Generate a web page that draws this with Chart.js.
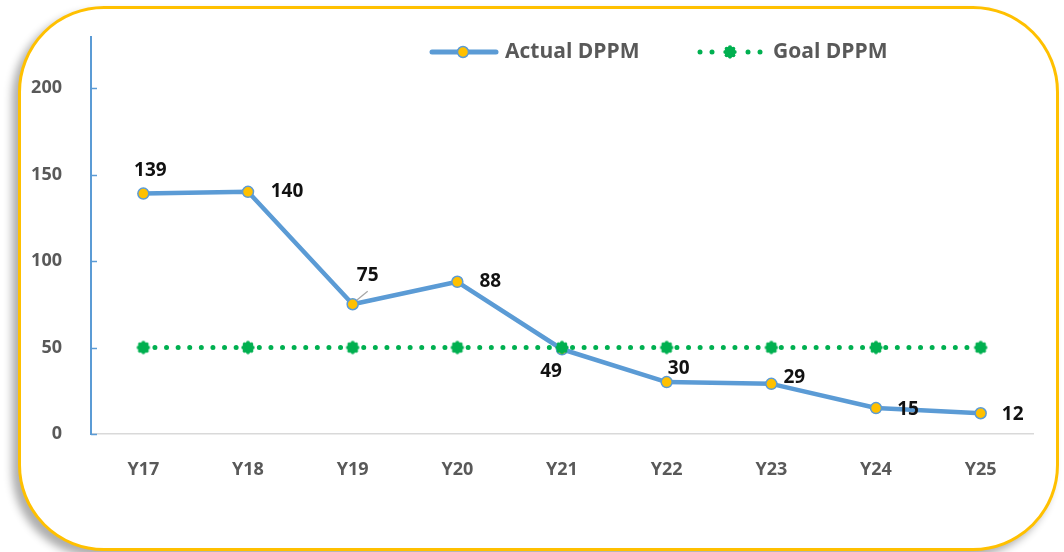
<!DOCTYPE html>
<html>
<head>
<meta charset="utf-8">
<script src="https://cdn.jsdelivr.net/npm/chart.js@4.4.1/dist/chart.umd.min.js"></script>
<style>
  html, body { margin: 0; padding: 0; background: #ffffff; }
  body { width: 1064px; height: 552px; position: relative; overflow: hidden; }
  #frame {
    position: absolute; left: 18px; top: 6px; width: 1041px; height: 545px;
    box-sizing: border-box; border: 3px solid #FFC000; border-radius: 86px;
    box-shadow: -6px 6px 8px rgba(0,0,0,0.32);
    background: #ffffff;
  }
  #wrap { position: absolute; left: 0; top: 0; width: 1064px; height: 552px; }
</style>
</head>
<body>
<div id="frame"></div>
<div id="wrap"><canvas id="c" width="1064" height="552"></canvas></div>
<script>
// ---- data ----
const categories = ['Y17', 'Y18', 'Y19', 'Y20', 'Y21', 'Y22', 'Y23', 'Y24', 'Y25'];
const actualDPPM = [139, 140, 75, 88, 49, 30, 29, 15, 12];
const goalDPPM = [50, 50, 50, 50, 50, 50, 50, 50, 50];
const yTicks = [0, 50, 100, 150, 200];
const seriesNames = ['Actual DPPM', 'Goal DPPM'];

// ---- styling ----
const BLUE = '#5B9BD5', GOLD = '#FFC000', GREEN = '#00B050', GRAY = '#595959';
const FONT = '"Open Sans", "Liberation Sans", sans-serif';
// label centre offsets relative to each Actual point (style only)
const labelOffsets = [[7,-23],[39,0],[15,-29],[33,0],[-11,22],[12,-14],[23,-6],[32,2],[32,1]];

function makeGoalMarker() {
  const cv = document.createElement('canvas');
  cv.width = 16; cv.height = 16;
  const g = cv.getContext('2d');
  g.fillStyle = GREEN;
  g.beginPath(); g.arc(8, 8, 5, 0, Math.PI * 2); g.fill();
  for (let i = 0; i < 8; i++) {
    const a = i * Math.PI / 4;
    g.beginPath(); g.arc(8 + 4.6 * Math.cos(a), 8 + 4.6 * Math.sin(a), 2.1, 0, Math.PI * 2); g.fill();
  }
  return cv;
}
const goalMarker = makeGoalMarker();

const extras = {
  id: 'extras',
  afterDatasetsDraw(chart) {
    const ctx = chart.ctx;
    const ys = chart.scales.y, xs = chart.scales.x;
    ctx.save();
    // y tick marks (inside)
    ctx.strokeStyle = BLUE; ctx.lineWidth = 1.5;
    yTicks.forEach(v => {
      const y = Math.round(ys.getPixelForValue(v)) + 0.5;
      ctx.beginPath(); ctx.moveTo(xs.left, y); ctx.lineTo(xs.left + 6, y); ctx.stroke();
    });
    // data labels
    const meta = chart.getDatasetMeta(1);
    ctx.font = 'bold 19px ' + FONT;
    ctx.fillStyle = '#111111';
    ctx.textAlign = 'center'; ctx.textBaseline = 'middle';
    meta.data.forEach((pt, i) => {
      const [dx, dy] = labelOffsets[i];
      ctx.fillText(String(actualDPPM[i]), pt.x + dx, pt.y + dy);
    });
    // leader line for Y19 label
    const p = meta.data[2];
    ctx.strokeStyle = '#A6A6A6'; ctx.lineWidth = 1.2;
    ctx.beginPath(); ctx.moveTo(p.x + 4, p.y - 4); ctx.lineTo(p.x + 15, p.y - 13); ctx.stroke();

    // legend
    const ly = 52;
    ctx.lineCap = 'round';
    ctx.strokeStyle = BLUE; ctx.lineWidth = 5;
    ctx.beginPath(); ctx.moveTo(432, ly); ctx.lineTo(496, ly); ctx.stroke();
    ctx.fillStyle = GOLD; ctx.strokeStyle = BLUE; ctx.lineWidth = 1.5;
    ctx.beginPath(); ctx.arc(463, ly, 5.5, 0, Math.PI * 2); ctx.fill(); ctx.stroke();
    ctx.fillStyle = GREEN;
    [700, 712, 748, 760].forEach(x => { ctx.beginPath(); ctx.arc(x, ly, 2.5, 0, Math.PI * 2); ctx.fill(); });
    ctx.drawImage(goalMarker, 730 - 8, ly - 8);
    ctx.font = 'bold 21px ' + FONT;
    ctx.fillStyle = GRAY; ctx.textAlign = 'left';
    ctx.fillText(seriesNames[0], 505, ly);
    ctx.fillText(seriesNames[1], 773, ly);
    ctx.restore();
  }
};

new Chart(document.getElementById('c'), {
  type: 'line',
  data: {
    labels: categories,
    datasets: [
      {
        label: seriesNames[1], data: goalDPPM,
        borderColor: GREEN, borderWidth: 5, borderDash: [0, 11.6], borderCapStyle: 'round',
        pointStyle: goalMarker, pointRadius: 7, pointHoverRadius: 7,
        fill: false, tension: 0
      },
      {
        label: seriesNames[0], data: actualDPPM,
        borderColor: BLUE, borderWidth: 4.5, borderCapStyle: 'round', borderJoinStyle: 'round',
        pointBackgroundColor: GOLD, pointBorderColor: BLUE, pointBorderWidth: 1.5,
        pointRadius: 5.5, pointHoverRadius: 5.5,
        fill: false, tension: 0
      }
    ]
  },
  options: {
    responsive: false, animation: false,
    layout: { padding: { top: 37, right: 31, bottom: 0, left: 0 } },
    plugins: { legend: { display: false }, tooltip: { enabled: false } },
    events: [],
    scales: {
      x: {
        offset: true,
        grid: { display: false },
        border: { display: true, color: '#D9D9D9', width: 1.5 },
        ticks: { color: GRAY, padding: 17, font: { family: FONT, size: 18, weight: 'bold' } },
        afterFit(s) { s.height = 118; }
      },
      y: {
        min: 0, max: 229.5,
        grid: { display: false },
        border: { display: true, color: BLUE, width: 2 },
        afterBuildTicks(s) { s.ticks = yTicks.map(v => ({ value: v })); },
        ticks: { color: GRAY, padding: 21, font: { family: FONT, size: 18, weight: 'bold' } },
        afterFit(s) { s.width = 91; }
      }
    }
  },
  plugins: [extras]
});
</script>
</body>
</html>
